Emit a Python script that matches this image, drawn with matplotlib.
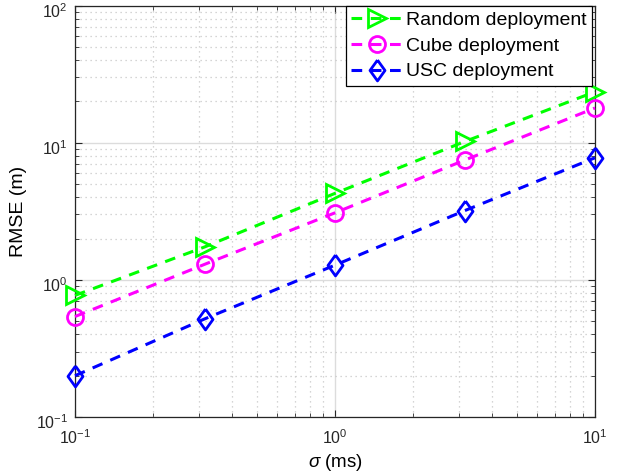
import matplotlib
matplotlib.use("Agg")
import matplotlib.pyplot as plt
import matplotlib.transforms as mtransforms
from matplotlib.ticker import LogLocator, FuncFormatter, NullFormatter
import numpy as np

# ---- data ----
sigma = [0.1, 0.316, 1.0, 3.16, 10.0]
rmse_random = [0.77, 1.74, 4.27, 10.2, 23.5]
rmse_cube = [0.54, 1.30, 3.08, 7.47, 17.9]
rmse_usc = [0.20, 0.52, 1.28, 3.20, 7.76]
labels = ["Random deployment", "Cube deployment", "USC deployment"]

plt.rcParams['font.family'] = ['Liberation Sans', 'DejaVu Sans']
plt.rcParams['mathtext.fontset'] = 'custom'
plt.rcParams['mathtext.rm'] = 'Liberation Sans'
plt.rcParams['mathtext.it'] = 'Liberation Sans:italic'
plt.rcParams['mathtext.bf'] = 'Liberation Sans:bold'

fig = plt.figure(figsize=(6.24, 4.74), dpi=100)
ax = fig.add_axes([75/624, 1-417/474, 520/624, 411.5/474])

axcol = '#262626'
diamond = [(0, 1), (0.72, 0), (0, -1), (-0.72, 0), (0, 1)]
common = dict(lw=2.2, linestyle=(0, (3.5, 2.8)), markerfacecolor='none',
              markeredgewidth=2.0, clip_on=False, zorder=3)
ax.plot(sigma, rmse_random, color='#00ff00', marker='>', markersize=13, label=labels[0], **common)
ax.plot(sigma, rmse_cube, color='#ff00ff', marker='o', markersize=11.5, label=labels[1], **common)
ax.plot(sigma, rmse_usc, color='#0000ff', marker=diamond, markersize=15, label=labels[2], **common)

ax.set_xscale('log')
ax.set_yscale('log')
ax.set_xlim(0.1, 10)
ax.set_ylim(0.1, 100)

fmt = FuncFormatter(lambda v, p: r'$\mathregular{10^{%d}}$' % int(round(np.log10(v))))
ax.xaxis.set_major_locator(LogLocator(base=10, numticks=10))
ax.yaxis.set_major_locator(LogLocator(base=10, numticks=10))
ax.xaxis.set_major_formatter(fmt)
ax.yaxis.set_major_formatter(fmt)
ax.xaxis.set_minor_locator(LogLocator(base=10, subs=np.arange(2, 10), numticks=20))
ax.yaxis.set_minor_locator(LogLocator(base=10, subs=np.arange(2, 10), numticks=20))
ax.xaxis.set_minor_formatter(NullFormatter())
ax.yaxis.set_minor_formatter(NullFormatter())

ax.grid(True, which='major', color='#dcdcdc', linestyle='-', linewidth=1.0)
ax.grid(True, which='minor', color='#c8c8c8', linestyle=(0, (1, 3)), linewidth=0.9)
ax.set_axisbelow(True)

ax.tick_params(which='both', direction='in', top=True, right=True, colors=axcol,
               labelsize=11.5, labelcolor=axcol)
ax.tick_params(which='major', length=5, width=0.8)
ax.tick_params(which='minor', length=3, width=0.6)
ax.tick_params(axis='x', pad=8)
ax.tick_params(axis='y', pad=5)
for s in ax.spines.values():
    s.set_color(axcol)
    s.set_linewidth(0.9)

# shift y tick labels slightly down (MATLAB-like centring incl. exponent)
offset = mtransforms.ScaledTranslation(0, -3/72, fig.dpi_scale_trans)
for lab in ax.get_yticklabels():
    lab.set_transform(lab.get_transform() + offset)

ax.set_xlabel(r'$\sigma$ (ms)', fontsize=13.5, color='black', labelpad=4)
ax.set_ylabel('RMSE (m)', fontsize=14, color='black', labelpad=6)

leg = ax.legend(loc='upper right', bbox_to_anchor=(0.995, 1.0), borderaxespad=0,
                fontsize=14, fancybox=False, framealpha=1, edgecolor='black',
                handlelength=2.6, handletextpad=0.2, borderpad=0.3, labelspacing=0.42)
leg.get_frame().set_linewidth(0.9)

fig.savefig('out.png', dpi=100)
